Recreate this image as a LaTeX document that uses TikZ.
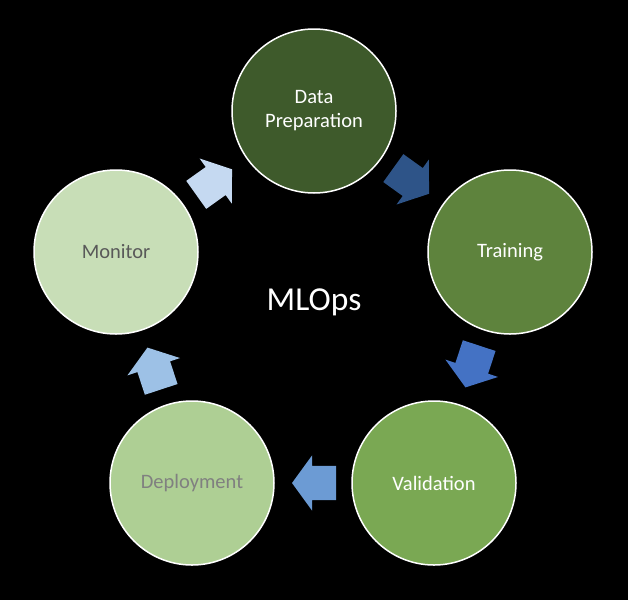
\documentclass[tikz,border=0pt]{standalone}
\usepackage{fontspec}
\setmainfont{Carlito}
\usepackage{tikz}
\usetikzlibrary{shapes.arrows,calc}

\definecolor{prepgreen}{RGB}{62,90,43}
\definecolor{traingreen}{RGB}{94,131,61}
\definecolor{validgreen}{RGB}{122,168,83}
\definecolor{deploygreen}{RGB}{174,207,148}
\definecolor{monitorgreen}{RGB}{200,222,183}
\definecolor{arrowA}{RGB}{46,84,136}
\definecolor{arrowB}{RGB}{68,114,196}
\definecolor{arrowC}{RGB}{108,155,212}
\definecolor{arrowD}{RGB}{157,193,230}
\definecolor{arrowE}{RGB}{197,217,241}

\begin{document}
\begin{tikzpicture}[x=1pt, y=-1pt,
        stage/.style={circle, draw=white, line width=1.5pt, minimum size=164pt, inner sep=0pt, align=center, font=\fontsize{20.5}{24}\selectfont},
        cyclearrow/.style={single arrow, draw=none, inner xsep=0pt, inner ysep=17pt, minimum height=44pt, single arrow head extend=10.5pt, single arrow tip angle=108}
    ]

    \def\pos{0.47} % where the arrow sits between two stages

    % Background
    \fill[black] (0,0) rectangle (628,600);

    % Stages
    \node[stage, fill=prepgreen, text=white] (prep) at (314,111) {Data\\Preparation};
    \node[stage, fill=traingreen, text=white] (train) at (510,252) {Training};
    \node[stage, fill=validgreen, text=white] (valid) at (434,483) {Validation};
    \node[stage, fill=deploygreen, text=gray] (deploy) at (192,483) {Deployment};
    \node[stage, fill=monitorgreen, text=black!65] (monitor) at (116,252) {Monitor};

    % Centre label
    \node[text=white, font=\fontsize{33.5}{38}\selectfont] (mlops) at (314,302) {MLOps};

    % Arrows
    \path let \p1=($(train)-(prep)$), \n1={atan2(\y1,\x1)} in
        node[cyclearrow, fill=arrowA, rotate=\n1] (a1) at ($(prep)!\pos!(train)$) {};
    \path let \p1=($(valid)-(train)$), \n1={atan2(\y1,\x1)} in
        node[cyclearrow, fill=arrowB, rotate=\n1] (a2) at ($(train)!\pos!(valid)$) {};
    \path let \p1=($(deploy)-(valid)$), \n1={atan2(\y1,\x1)} in
        node[cyclearrow, fill=arrowC, rotate=\n1] (a3) at ($(valid)!\pos!(deploy)$) {};
    \path let \p1=($(monitor)-(deploy)$), \n1={atan2(\y1,\x1)} in
        node[cyclearrow, fill=arrowD, rotate=\n1] (a4) at ($(deploy)!\pos!(monitor)$) {};
    \path let \p1=($(prep)-(monitor)$), \n1={atan2(\y1,\x1)} in
        node[cyclearrow, fill=arrowE, rotate=\n1] (a5) at ($(monitor)!\pos!(prep)$) {};

\end{tikzpicture}
\end{document}
